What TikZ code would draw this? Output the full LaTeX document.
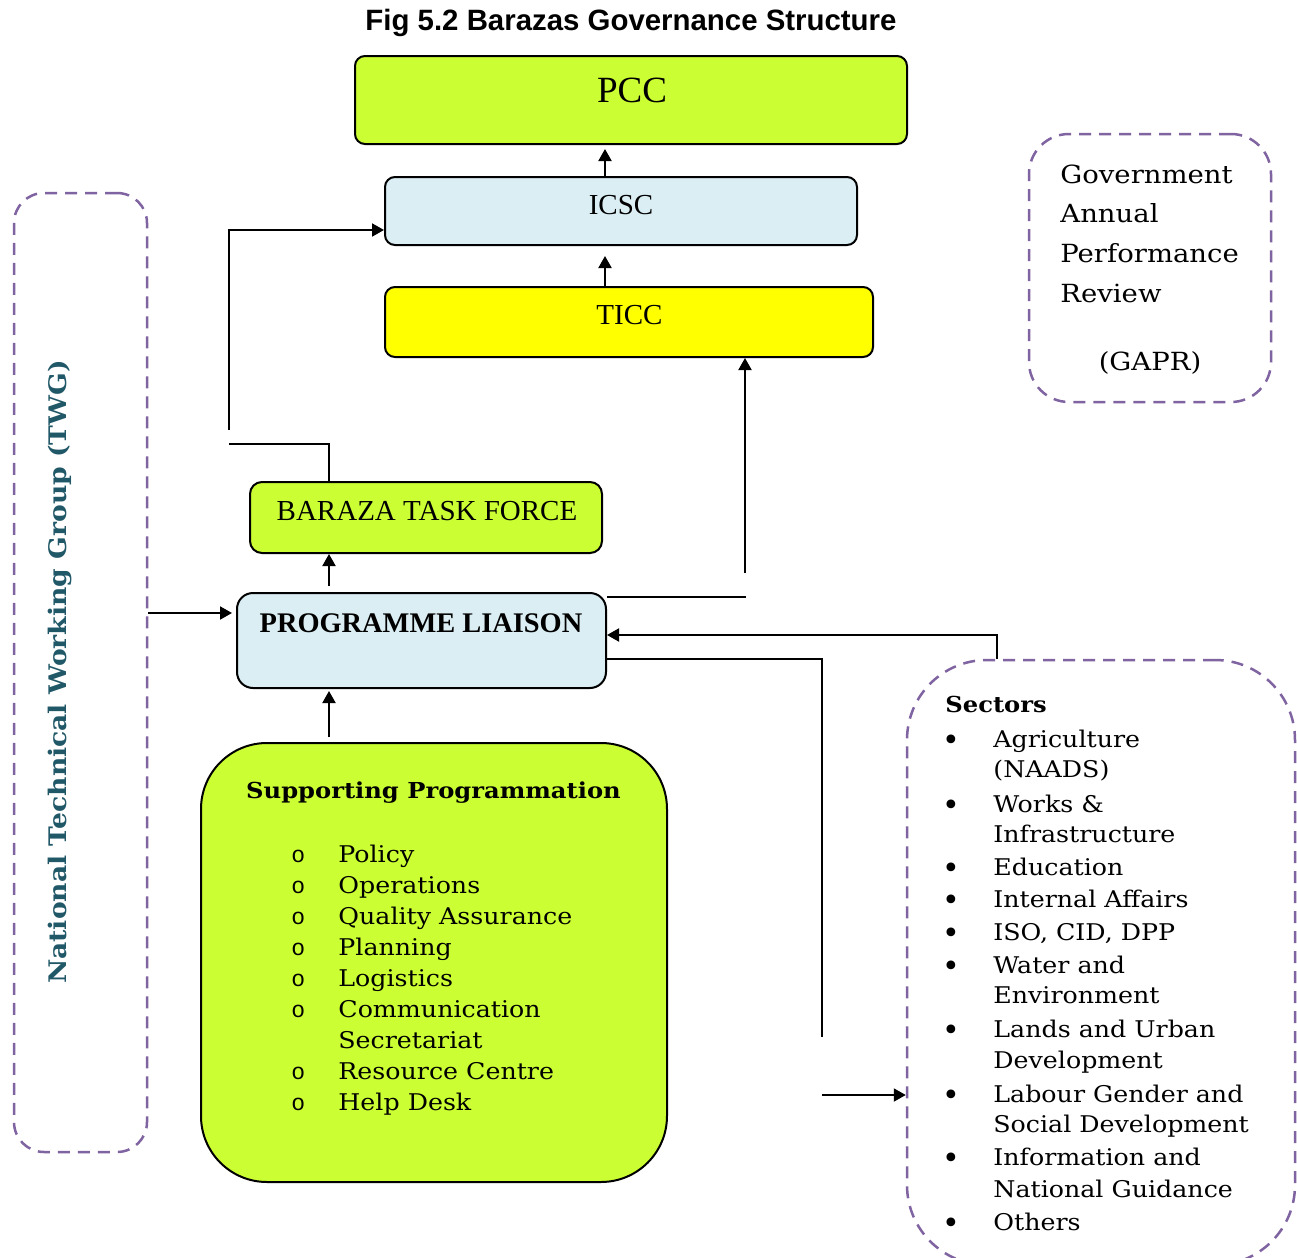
\documentclass[tikz,border=0pt]{standalone}
\usepackage{fontspec}
\setmainfont{DejaVu Serif}[FakeStretch=1.1]
\newfontfamily\timesfont{Liberation Serif}
\newfontfamily\arialfont{Liberation Sans}
\newfontfamily\bulletfont{DejaVu Sans}
\newfontfamily\circfont{Liberation Mono}
\usetikzlibrary{arrows.meta,calc}

\definecolor{limefill}{HTML}{CCFF33}
\definecolor{icefill}{HTML}{DAEEF3}
\definecolor{sunfill}{HTML}{FFFF00}
\definecolor{dashpurple}{HTML}{8064A2}
\definecolor{twgteal}{HTML}{215868}

\tikzset{
  solidbox/.style={draw=black, line width=1pt, inner sep=0pt},
  dashbox/.style={draw=dashpurple, line width=1.25pt, dash pattern=on 6pt off 4pt, inner sep=0pt},
  link/.style={draw=black, line width=1pt},
  arrowlink/.style={link, -{Triangle[length=6pt,width=6.5pt]}},
  boxlabel/.style={inner sep=0pt, font=\timesfont\fontsize{14.5}{16}\selectfont},
  bodyline/.style={inner sep=0pt, anchor=base west, font=\fontsize{11.5}{13}\selectfont},
  gaprline/.style={inner sep=0pt, anchor=base west, font=\fontsize{12.5}{15}\selectfont},
  hollowmark/.style={inner sep=0pt, anchor=base west, font=\circfont\fontsize{11.5}{13}\selectfont},
  dotmark/.style={inner sep=0pt, anchor=base, font=\bulletfont\fontsize{15}{16}\selectfont},
}

\begin{document}
\begin{tikzpicture}[x=0.5pt, y=-0.5pt]
\useasboundingbox (0,0) rectangle (1297,1258);
\fill[white] (0,0) rectangle (1297,1258);

% title
\node[inner sep=0pt, font=\arialfont\bfseries\fontsize{14.7}{17}\selectfont] (title) at (631,23) {Fig 5.2 Barazas Governance Structure};

% main boxes of the hierarchy
\node[solidbox, fill=limefill, rounded corners=5pt, minimum width=276pt, minimum height=44pt] (pcc) at (631,100) {};
\node[boxlabel, font=\timesfont\fontsize{18.5}{20}\selectfont] (pcclabel) at (632,90) {PCC};

\node[solidbox, fill=icefill, rounded corners=5pt, minimum width=236pt, minimum height=34pt] (icsc) at (621,211) {};
\node[boxlabel] (icsclabel) at (621,205) {ICSC};

\node[solidbox, fill=sunfill, rounded corners=5pt, minimum width=244pt, minimum height=35pt] (ticc) at (629,322) {};
\node[boxlabel] (ticclabel) at (629.5,315) {TICC};

\node[solidbox, fill=limefill, rounded corners=6pt, minimum width=176pt, minimum height=35.5pt] (btf) at (426,517.5) {};
\node[boxlabel] (btflabel) at (427,511) {BARAZA TASK FORCE};

\node[solidbox, fill=icefill, rounded corners=8pt, minimum width=184.5pt, minimum height=47.5pt] (pl) at (421.5,640.5) {};
\node[boxlabel, font=\timesfont\bfseries\fontsize{14.2}{16}\selectfont] (pllabel) at (421,623) {PROGRAMME LIAISON};

% supporting programmation
\node[solidbox, fill=limefill, rounded corners=33pt, minimum width=233pt, minimum height=219.5pt] (sup) at (434,962.5) {};
\node[inner sep=0pt, anchor=base, font=\bfseries\fontsize{11}{13}\selectfont] (suptitle) at (433.5,798) {Supporting Programmation};
\foreach \txt/\yb [count=\i] in {Policy/862, Operations/893, Quality Assurance/924, Planning/955, Logistics/986, Communication/1017, Secretariat/1048, Resource Centre/1079, Help Desk/1110}
  \node[bodyline] (supitem\i) at (338,\yb) {\txt};
\foreach \yb [count=\i] in {862, 893, 924, 955, 986, 1017, 1079, 1110}
  \node[hollowmark] (supmark\i) at (291,\yb) {o};

% national technical working group
\node[dashbox, rounded corners=15pt, minimum width=66.5pt, minimum height=479.5pt] (twg) at (80.5,672.5) {};
\node[inner sep=0pt, rotate=90, text=twgteal, font=\bfseries\fontsize{12.1}{14}\selectfont] (twglabel) at (60,672) {National Technical Working Group (TWG)};

% government annual performance review
\node[dashbox, rounded corners=20pt, minimum width=121pt, minimum height=134pt] (gapr) at (1150,268) {};
\foreach \txt/\yb [count=\i] in {Government/183, Annual/222, Performance/262, Review/302}
  \node[gaprline] (gaprline\i) at (1060,\yb) {\txt};
\node[gaprline, anchor=base] (gaprabbr) at (1150,370) {(GAPR)};

% sectors
\node[dashbox, rounded corners=40pt, minimum width=194pt, minimum height=302.5pt] (sec) at (1101,962.5) {};
\node[inner sep=0pt, anchor=base west, font=\bfseries\fontsize{11}{13}\selectfont] (sectitle) at (945,712) {Sectors};
\foreach \txt/\yb [count=\i] in {Agriculture/747, {(NAADS)}/777, Works \&/812, Infrastructure/842, Education/875, Internal Affairs/907, {ISO, CID, DPP}/940, Water and/973, Environment/1003, Lands and Urban/1037, Development/1068, Labour Gender and/1102, Social Development/1132, Information and/1165, National Guidance/1197, Others/1230}
  \node[bodyline] (secitem\i) at (993,\yb) {\txt};
\foreach \yb [count=\i] in {747, 812, 875, 907, 940, 973, 1037, 1102, 1165, 1230}
  \node[dotmark] (secmark\i) at (951,\yb+3) {•};

% connector waypoints
\coordinate (colA) at (605,0);
\coordinate (colB) at (329,0);
\coordinate (leftTop) at (229,430);
\coordinate (icscIn) at (0,230);
\coordinate (leftLow) at (229,444);
\coordinate (plRightEnd) at (746,597);
\coordinate (ticcFeed) at (745,573);
\coordinate (secBend) at (997,635);
\coordinate (downBend) at (822,659);
\coordinate (downEnd) at (822,1037);
\coordinate (secFeed) at (822,1095);
\coordinate (twgRow) at (0,613);

% connectors
\draw[arrowlink] (icsc.north -| colA) -- ($(pcc.south -| colA)+(0,4)$);
\draw[arrowlink] (ticc.north -| colA) -- ($(icsc.south -| colA)+(0,10)$);
\draw[arrowlink] (leftTop) |- (icsc.west |- icscIn);
\draw[link] (leftLow) -| (btf.north -| colB);
\draw[arrowlink] ($(pl.north -| colB)+(0,-6)$) -- (btf.south -| colB);
\draw[link] (pl.east |- plRightEnd) -- (plRightEnd);
\draw[arrowlink] (ticcFeed) -- (ticc.south -| ticcFeed);
\draw[arrowlink] (sec.north -| secBend) -- (secBend) -- (pl.east |- secBend);
\draw[link] (pl.east |- downBend) -- (downBend) -- (downEnd);
\draw[arrowlink] (secFeed) -- (sec.west |- secFeed);
\draw[arrowlink] (twg.east |- twgRow) -- ($(pl.west |- twgRow)+(-4,0)$);
\draw[arrowlink] ($(sup.north -| colB)+(0,-5)$) -- ($(pl.south -| colB)+(0,2)$);
\end{tikzpicture}
\end{document}
